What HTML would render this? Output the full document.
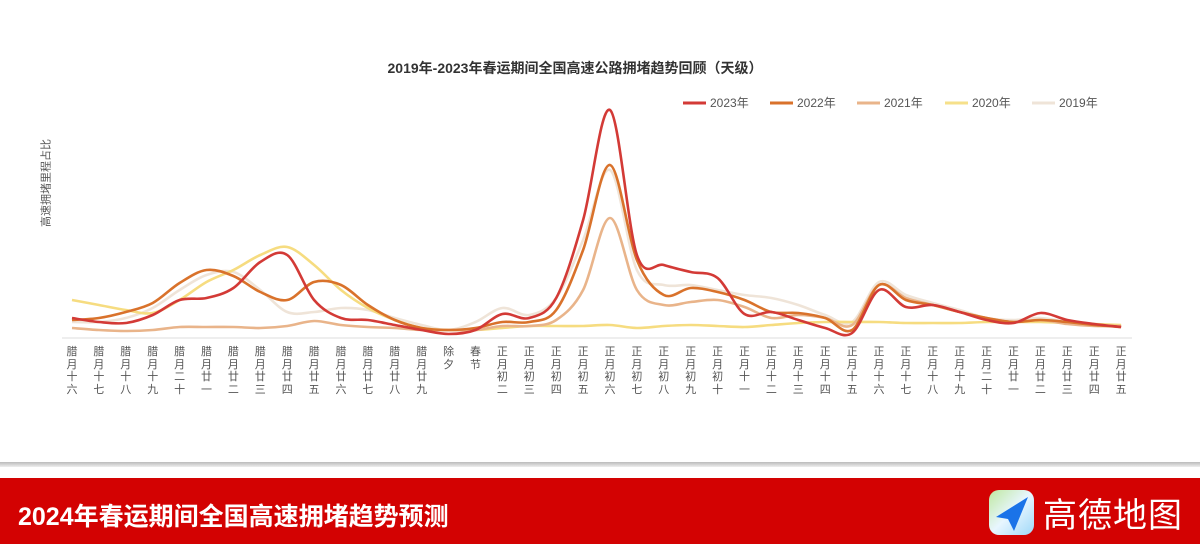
<!DOCTYPE html>
<html><head><meta charset="utf-8"><style>
html,body{margin:0;width:1200px;height:544px;overflow:hidden;background:#fff;font-family:"Liberation Sans","Noto Sans CJK SC",sans-serif;position:relative}
.t{position:absolute;top:58px;left:0;width:1150px;text-align:center;font-size:14px;font-weight:bold;color:#333}
.yl{position:absolute;left:-7px;top:175px;width:105px;text-align:center;transform:rotate(-90deg);font-size:11px;color:#555}
.lb{position:absolute;top:346px;width:14px;font-size:11px;line-height:12.5px;color:#555;text-align:center}
.sep{position:absolute;left:0;top:462px;width:1200px;height:5px;background:linear-gradient(#bbb,#eee)}
.ban{position:absolute;left:0;top:478px;width:1200px;height:66px;background:#d30202}
.bt{position:absolute;left:18px;top:19px;font-size:25px;font-weight:bold;color:#fff}
.lg{position:absolute;left:1043px;top:488px;font-size:34px;color:#fff;letter-spacing:1px}
</style></head><body>
<div class="t">2019年-2023年春运期间全国高速公路拥堵趋势回顾（天级）</div>
<div class="yl">高速拥堵里程占比</div>
<svg width="1200" height="470" style="position:absolute;left:0;top:0">
<line x1="62" y1="338" x2="1132" y2="338" stroke="#ddd" stroke-width="1"/>
<g id="g" fill="none" stroke-width="2.6" stroke-linejoin="round"></g>
<g font-size="12" fill="#555">
<line x1="683" y1="103" x2="706" y2="103" stroke="#d33a36" stroke-width="3"/><text x="710" y="107">2023年</text>
<line x1="770" y1="103" x2="793" y2="103" stroke="#d9722b" stroke-width="3"/><text x="797" y="107">2022年</text>
<line x1="857" y1="103" x2="880" y2="103" stroke="#e9b48a" stroke-width="3"/><text x="884" y="107">2021年</text>
<line x1="945" y1="103" x2="968" y2="103" stroke="#f6e08a" stroke-width="3"/><text x="972" y="107">2020年</text>
<line x1="1032" y1="103" x2="1055" y2="103" stroke="#efe4d8" stroke-width="3"/><text x="1059" y="107">2019年</text>
</g>
</svg>
<div id="labs"></div>
<div class="sep"></div>
<div class="ban"><div class="bt">2024年春运期间全国高速拥堵趋势预测</div></div>
<svg width="48" height="48" style="position:absolute;left:988px;top:489px">
<defs><linearGradient id="lgr" x1="0" y1="0" x2="1" y2="1"><stop offset="0" stop-color="#bfe8a0"/><stop offset=".5" stop-color="#e8f6ff"/><stop offset="1" stop-color="#9fd8f8"/></linearGradient></defs>
<rect x="1" y="1" width="45" height="45" rx="10" fill="url(#lgr)"/>
<path d="M40 8 L8 28 L20 30 L26 42 Z" fill="#1a73e8"/>
</svg>
<div class="lg">高德地图</div>
<script>
var names=["腊月十六","腊月十七","腊月十八","腊月十九","腊月二十","腊月廿一","腊月廿二","腊月廿三","腊月廿四","腊月廿五","腊月廿六","腊月廿七","腊月廿八","腊月廿九","除夕","春节","正月初二","正月初三","正月初四","正月初五","正月初六","正月初七","正月初八","正月初九","正月初十","正月十一","正月十二","正月十三","正月十四","正月十五","正月十六","正月十七","正月十八","正月十九","正月二十","正月廿一","正月廿二","正月廿三","正月廿四","正月廿五"];
var h="";names.forEach(function(n,i){var x=72+26.9*i;h+='<div class="lb" style="left:'+(x-7)+'px">'+n.split("").join("<br>")+'</div>'});
document.getElementById("labs").innerHTML=h;
var S=[
["#efe4d8",[322,322,318,308,290,275,272,290,312,312,308,310,318,325,330,322,308,315,298,240,170,270,285,285,290,295,298,305,315,322,282,295,303,310,318,320,318,322,324,326]],
["#f6dc80",[300,305,310,313,300,282,270,255,247,265,290,308,320,328,330,330,328,326,326,326,325,328,326,325,326,327,325,323,322,322,322,323,323,323,322,322,322,323,324,325]],
["#e9b48a",[328,330,331,330,327,327,327,328,326,321,325,327,328,330,330,330,326,326,320,290,218,290,305,302,300,307,318,315,318,325,285,298,305,312,318,322,320,324,326,326]],
["#d9722b",[320,318,312,303,283,270,276,292,300,282,285,305,320,328,330,328,322,322,310,250,165,260,295,288,292,300,312,313,318,330,285,300,305,312,318,322,320,322,325,327]],
["#d33a36",[318,322,323,315,300,298,288,262,255,300,318,320,325,330,334,330,314,318,298,220,110,255,265,272,278,314,312,320,328,333,290,307,305,312,320,323,313,320,324,327]]];
var g="";S.forEach(function(s){var p=s[1].map(function(y,i){return[72+26.9*i,y]});
var d="M"+p[0][0]+" "+p[0][1];
for(var i=0;i<p.length-1;i++){var a=p[Math.max(0,i-1)],b=p[i],c=p[i+1],e=p[Math.min(p.length-1,i+2)];
d+=" C"+(b[0]+(c[0]-a[0])/6)+" "+(b[1]+(c[1]-a[1])/6)+" "+(c[0]-(e[0]-b[0])/6)+" "+(c[1]-(e[1]-b[1])/6)+" "+c[0]+" "+c[1];}
g+='<path d="'+d+'" stroke="'+s[0]+'"/>';});
document.getElementById("g").innerHTML=g;
</script>
</body></html>
